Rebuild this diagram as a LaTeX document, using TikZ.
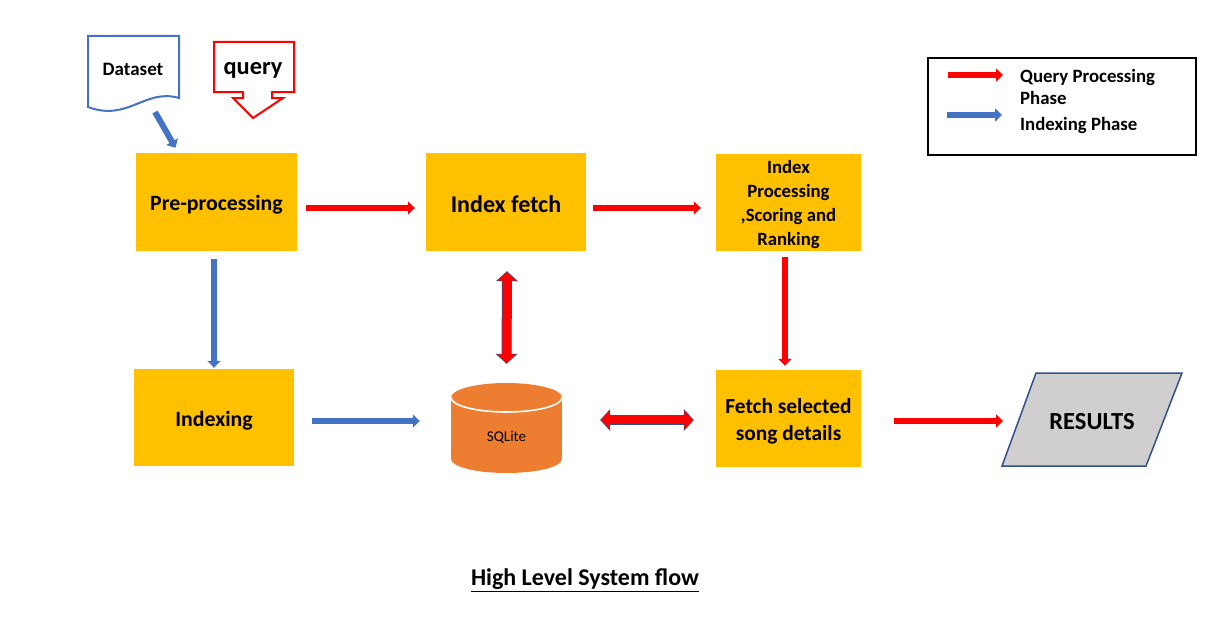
\documentclass[tikz,border=0pt]{standalone}
\usepackage{fontspec}
\setmainfont{Carlito}
\usetikzlibrary{arrows.meta,calc}
\definecolor{ybox}{HTML}{FFC000}
\definecolor{rd}{HTML}{FF0000}
\definecolor{bl}{HTML}{4472C4}
\definecolor{org}{HTML}{ED7D31}
\definecolor{gry}{HTML}{D0CECE}
\definecolor{outl}{HTML}{2F528F}
\newcommand{\lowertext}[2]{\raisebox{-#1}[\height][\depth]{#2}}
\tikzset{
  box/.style={fill=ybox, minimum width=161pt, minimum height=98pt, inner sep=2pt, align=center, font=\bfseries\fontsize{21.8}{26}\selectfont},
  rarr/.style={draw=rd, line width=6pt, -{Triangle[length=7pt,width=13pt]}},
  barr/.style={draw=bl, line width=6pt, -{Triangle[length=7pt,width=13pt]}},
  dbl/.style={draw=rd, line width=8.5pt, shorten <=1pt, shorten >=1pt,
    {Triangle[length=8.5pt,width=19pt]}-{Triangle[length=8.5pt,width=19pt]},
    preaction={draw=outl, line width=10pt, shorten <=0pt, shorten >=0pt,
    {Triangle[length=10pt,width=21.5pt]}-{Triangle[length=10pt,width=21.5pt]}}},
  legtext/.style={anchor=base west, inner sep=0pt, font=\bfseries\fontsize{18.8}{22}\selectfont},
}
\begin{document}
\begin{tikzpicture}[x=1pt,y=-1pt]
\useasboundingbox (0,0) rectangle (1215,642);
% Dataset document
\draw[bl, line width=2pt, fill=white] (88,36) -- (179,36) -- (179,98)
  .. controls (145,88) and (128,122) .. (88,107) -- cycle;
\node[font=\bfseries\fontsize{19}{22}\selectfont] (dataset) at (133,69) {Dataset};
% query callout
\draw[rd, line width=2pt, fill=white] (214,42) -- (294,42) -- (294,92) -- (272,92) -- (272,98) -- (283,98)
  -- (253,118) -- (233,98) -- (243,98) -- (243,92) -- (214,92) -- cycle;
\node[font=\bfseries\fontsize{24.4}{28}\selectfont] (query) at (253,70) {query};
% boxes
\node[box] (pre) at (216.5,202) {\lowertext{3pt}{Pre-processing}};
\node[box, minimum width=160pt, font=\bfseries\fontsize{24}{28}\selectfont] (ifetch) at (506,202) {\lowertext{2pt}{Index fetch}};
\node[box, minimum width=145pt, minimum height=97pt, inner sep=0pt, font=\bfseries\fontsize{18.7}{24.2}\selectfont] (iproc) at (788.5,202.5) {\lowertext{2pt}{\begin{tabular}{@{}c@{}}Index\\Processing\\,Scoring and\\Ranking\end{tabular}}};
\node[box, minimum width=160pt, minimum height=97pt] (indexing) at (214,417.5) {\lowertext{3pt}{Indexing}};
\node[box, minimum width=145pt, minimum height=97pt, font=\bfseries\fontsize{21.4}{27}\selectfont] (fetch) at (788.5,418.5) {\lowertext{3pt}{\begin{tabular}{@{}c@{}}Fetch selected\\song details\end{tabular}}};
% SQLite cylinder
\fill[org] (451,397.5) rectangle (562,459);
\fill[org] (506.5,459) ellipse [x radius=55.5, y radius=14];
\fill[org] (506.5,397.5) ellipse [x radius=55.5, y radius=14.5];
\begin{scope}
\clip (448,397.5) rectangle (565,416);
\draw[white, line width=1.6pt] (506.5,397.5) ellipse [x radius=55.5, y radius=14.5];
\end{scope}
\node[inner sep=0pt, minimum width=111pt, minimum height=90pt] (db) at (506.5,428) {};
\node[font=\fontsize{15}{18}\selectfont] (dblabel) at (506.5,437) {SQLite};
% RESULTS
\draw[outl, line width=1.5pt, fill=gry] (1036,373) -- (1182,373) -- (1146,466) -- (1002,466) -- cycle;
\node[font=\bfseries\fontsize{24.5}{28}\selectfont] (res) at (1092,422) {RESULTS};
\coordinate (resin) at (1003,421);
% legend
\draw[black, line width=2pt] (928,58) rectangle (1196,155);
\coordinate (l1a) at (948,75); \coordinate (l1b) at (1003,75);
\coordinate (l2a) at (947,115); \coordinate (l2b) at (1002,115);
\draw[rarr] (l1a) -- (l1b);
\draw[barr] (l2a) -- (l2b);
\node[legtext] (leg1) at (1020,82) {Query Processing};
\node[legtext] (leg1b) at (1020,104) {Phase};
\node[legtext] (leg2) at (1020,130) {Indexing Phase};
% connectors
\draw[barr] ($(dataset)+(22,43)$) -- ($(pre.north)+(-41,-5)$);
\draw[rarr] ($(pre.east)+(9,6)$) -- ($(ifetch.west)+(-11,6)$);
\draw[rarr] ($(ifetch.east)+(7,6)$) -- ($(iproc.west)+(-15,5.5)$);
\draw[rarr] ($(iproc.south)+(-3.5,5.5)$) -- ($(fetch.north)+(-3.5,-4)$);
\draw[rarr] ($(fetch.east)+(33,2.5)$) -- (resin);
\draw[barr] ($(pre.south)+(-2.5,8)$) -- ($(indexing.north)+(0,-1)$);
\draw[barr] ($(indexing.east)+(18,3.5)$) -- ($(db.west)+(-31,-7)$);
\draw[dbl] ($(ifetch.south)+(1,20)$) -- ($(db.north)+(0,-19)$);
\draw[dbl] ($(db.east)+(38,-8)$) -- ($(fetch.west)+(-22,1.5)$);
% title
\node[font=\bfseries\fontsize{24}{28}\selectfont] (title) at (585,580) {\underline{High Level System flow}};
\end{tikzpicture}
\end{document}
